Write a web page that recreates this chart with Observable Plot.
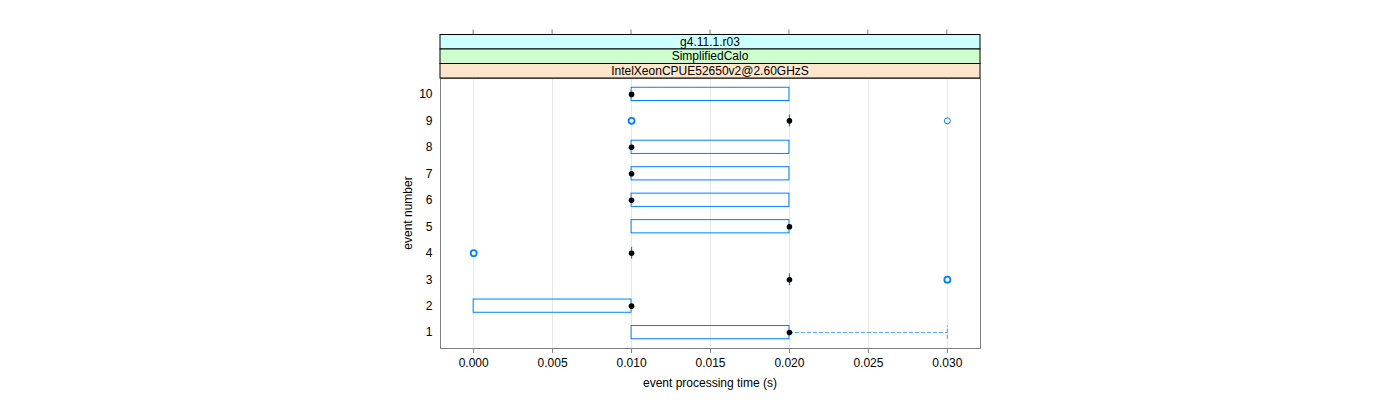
<!DOCTYPE html>
<html>
<head>
<meta charset="utf-8">
<script src="https://cdn.jsdelivr.net/npm/d3@7"></script>
<script src="https://cdn.jsdelivr.net/npm/@observablehq/plot@0.6"></script>
<style>
  html, body { margin: 0; padding: 0; background: #fff; }
  #chart { width: 1400px; height: 400px; }
  svg { font-family: "Liberation Sans", Arial, Helvetica, sans-serif; }
</style>
</head>
<body>
<div id="chart"></div>
<script>
// ---- data ----
const events      = [1, 2, 3, 4, 5, 6, 7, 8, 9, 10];
const q1          = [0.010, 0.000, 0.020, 0.010, 0.010, 0.010, 0.010, 0.010, 0.020, 0.010];
const medians     = [0.020, 0.010, 0.020, 0.010, 0.020, 0.010, 0.010, 0.010, 0.020, 0.010];
const q3          = [0.020, 0.010, 0.020, 0.010, 0.020, 0.020, 0.020, 0.020, 0.020, 0.020];
const whiskerHigh = [0.030, 0.010, 0.020, 0.010, 0.020, 0.020, 0.020, 0.020, 0.020, 0.020];
const outlierEvent = [3, 3, 4, 4, 9, 9, 9];
const outlierTime  = [0.030, 0.030, 0.000, 0.000, 0.010, 0.010, 0.030];
const xTicks = [0.000, 0.005, 0.010, 0.015, 0.020, 0.025, 0.030];
const stripLabels = ["g4.11.1.r03", "SimplifiedCalo", "IntelXeonCPUE52650v2@2.60GHzS"];
const stripColors = ["#ccffff", "#ccffcc", "#ffe5cc"];
const xLabel = "event processing time (s)";
const yLabel = "event number";

const boxes = events.map((e, i) => ({ev: e, q1: q1[i], med: medians[i], q3: q3[i], hi: whiskerHigh[i]}));
const wideBoxes = boxes.filter(d => d.q3 > d.q1);
const flatBoxes = boxes.filter(d => d.q3 === d.q1);
const whiskers = boxes.filter(d => d.hi > d.q3);
// overlapping outliers drawn once with a count (repeated circles look bolder)
const outlierGroups = d3.rollups(outlierEvent.map((e, i) => ({ev: e, t: outlierTime[i]})),
  v => v.length, d => d.ev, d => d.t)
  .flatMap(([ev, ts]) => ts.map(([t, n]) => ({ev, t, n})));

const half = 0.25;
const blue = "#0080ff";

const chart = Plot.plot({
  width: 1400,
  height: 400,
  marginLeft: 440,
  marginRight: 420,
  marginTop: 78,
  marginBottom: 52,
  style: {fontFamily: '"Liberation Sans", Arial, Helvetica, sans-serif', fontSize: "12px", color: "#000", background: "#fff"},
  x: {domain: [-0.0021, 0.0321], ticks: xTicks, tickFormat: d3.format(".3f")},
  y: {domain: [0.4, 10.6], ticks: events, tickFormat: d3.format("d")},
  marks: [
    Plot.gridX(xTicks, {stroke: "#e6e6e6", strokeOpacity: 1}),
    Plot.ruleY(whiskers, {y: "ev", x1: "q3", x2: "hi", stroke: blue, strokeOpacity: 0.7, strokeDasharray: "4,2"}),
    Plot.ruleX(whiskers, {x: "hi", y1: d => d.ev - half, y2: d => d.ev + half, stroke: blue, strokeOpacity: 0.7, strokeDasharray: "4,2"}),
    Plot.rect(wideBoxes, {x1: "q1", x2: "q3", y1: d => d.ev - half, y2: d => d.ev + half, fill: "none", stroke: blue, strokeWidth: 1}),
    Plot.ruleX(flatBoxes, {x: "q1", y1: d => d.ev - half * 0.9, y2: d => d.ev + half * 0.9, stroke: blue, strokeWidth: 1.2}),
    Plot.dot(outlierGroups, {x: "t", y: "ev", r: 3, stroke: blue, strokeWidth: d => d.n > 1 ? 1.8 : 1, fill: "none"}),
    Plot.dot(boxes, {x: "med", y: "ev", r: 2.8, fill: "#000", stroke: "none"}),
    Plot.frame({stroke: "#7f7f7f"}),
    Plot.axisX({ticks: xTicks, tickFormat: d3.format(".3f"), tickSize: 5, tickPadding: 5, label: null, stroke: "#7f7f7f", fontSize: 12}),
    Plot.axisY({ticks: events, tickFormat: d3.format("d"), tickSize: 0, tickPadding: 8, label: null, fontSize: 12}),
  ]
});

document.getElementById("chart").appendChild(chart);

// ---- lattice-style decorations: strips, top ticks, axis titles ----
const svg = d3.select(chart);
const xs = chart.scale("x");
const left = 440, right = 1400 - 420;
const stripTop = 34.5, stripH = 14.5;
const g = svg.append("g");
xTicks.forEach(t => {
  const px = xs.apply(t);
  g.append("line").attr("x1", px).attr("x2", px).attr("y1", stripTop - 5).attr("y2", stripTop)
    .attr("stroke", "#7f7f7f");
});
stripLabels.forEach((lab, i) => {
  const y0 = stripTop + i * stripH;
  g.append("rect").attr("x", left).attr("y", y0).attr("width", right - left).attr("height", stripH)
    .attr("fill", stripColors[i]).attr("stroke", "#000").attr("stroke-width", 1);
  g.append("text").attr("x", (left + right) / 2).attr("y", y0 + stripH / 2).attr("dy", "0.35em")
    .attr("text-anchor", "middle").attr("font-size", 12).attr("fill", "#000").text(lab);
});
g.append("text").attr("x", (left + right) / 2).attr("y", 387).attr("text-anchor", "middle")
  .attr("font-size", 12).attr("fill", "#000").text(xLabel);
g.append("text").attr("transform", `translate(412,${(78 + 348) / 2}) rotate(-90)`).attr("text-anchor", "middle")
  .attr("font-size", 12).attr("fill", "#000").text(yLabel);
</script>
</body>
</html>
